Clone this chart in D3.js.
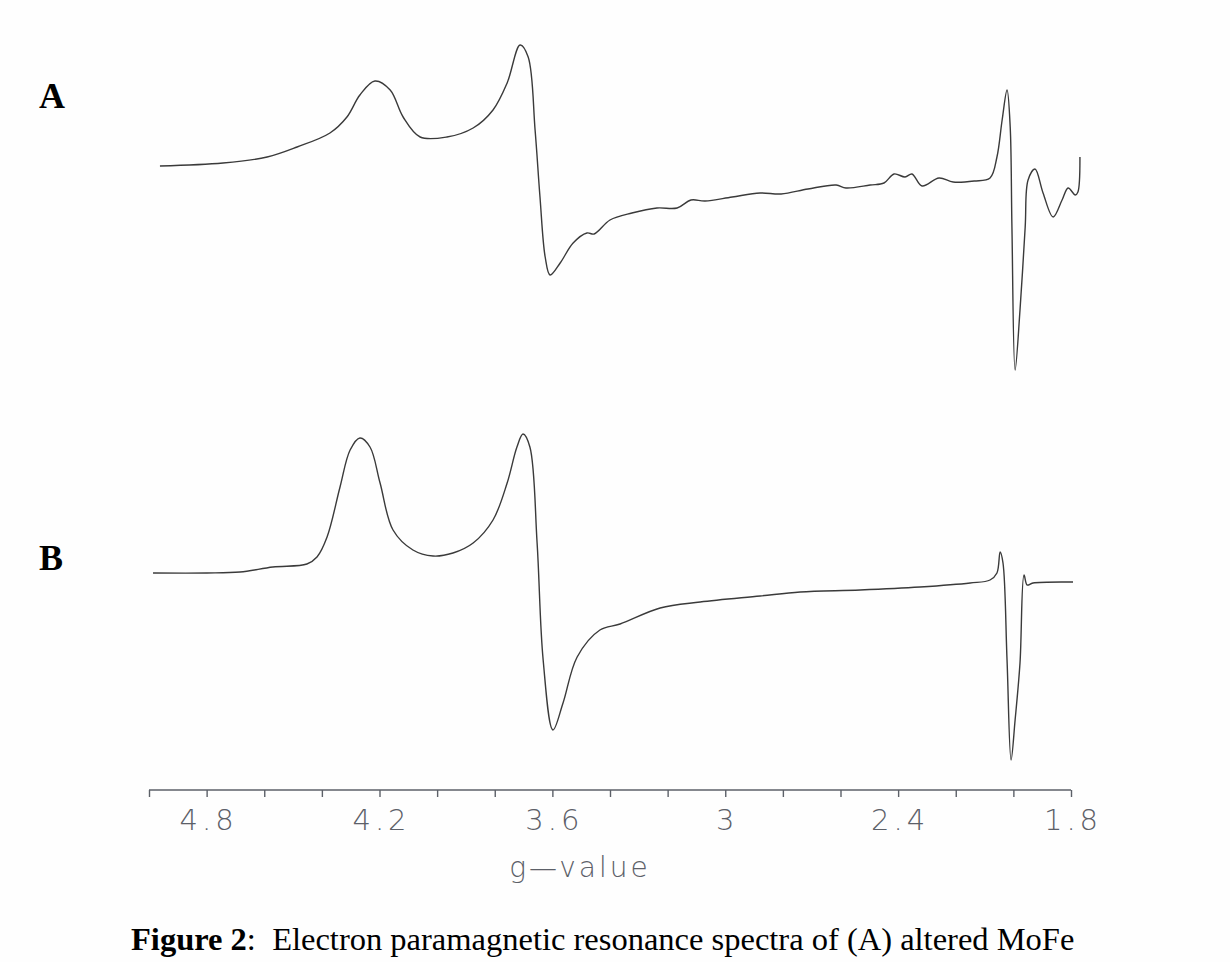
<!DOCTYPE html>
<html>
<head>
<meta charset="utf-8">
<script src="https://cdn.jsdelivr.net/npm/d3@7"></script>
<style>
  body { margin: 0; background: #fefefe; }
  svg { display: block; }
</style>
</head>
<body>
<div id="chart-area"></div>
<script>
// EPR spectra, values (intensity in arbitrary units)

const gA = [4.962, 4.743, 4.590, 4.486, 4.372, 4.313, 4.268, 4.216, 4.163, 4.118, 4.059, 3.966, 3.875, 3.806, 3.757, 3.712, 3.684, 3.660, 3.643, 3.625, 3.608, 3.573, 3.528, 3.480, 3.455, 3.400, 3.324, 3.237, 3.167, 3.119, 3.070, 2.976, 2.879, 2.806, 2.713, 2.615, 2.581, 2.497, 2.449, 2.414, 2.376, 2.352, 2.317, 2.258, 2.209, 2.136, 2.081, 2.057, 2.039, 2.022, 2.011, 2.005, 1.994, 1.977, 1.959, 1.949, 1.925, 1.897, 1.862, 1.831, 1.810, 1.785, 1.776, 1.769];
const intA = [14, 17, 23, 33, 47, 63, 85, 99, 90, 63, 43, 43, 52, 70, 97, 135, 123, 50, -17, -77, -95, -83, -63, -53, -54, -40, -33, -28, -28, -20, -21, -17, -13, -14, -9, -5, -8, -5, -3, 6, 3, 6, -6, 2, -2, -1, 2, 23, 60, 90, 53, -47, -190, -130, -47, 0, 11, -13, -37, -20, -8, -15, -12, 23];

const gB = [4.986, 4.799, 4.684, 4.570, 4.452, 4.417, 4.382, 4.337, 4.302, 4.268, 4.233, 4.198, 4.153, 4.084, 4.014, 3.945, 3.875, 3.806, 3.757, 3.723, 3.702, 3.678, 3.653, 3.632, 3.598, 3.563, 3.514, 3.435, 3.365, 3.226, 3.087, 2.879, 2.740, 2.532, 2.324, 2.150, 2.081, 2.057, 2.046, 2.036, 2.022, 2.008, 1.994, 1.977, 1.963, 1.952, 1.932, 1.793];
const intB = [7, 7, 8, 13, 16, 23, 43, 93, 130, 142, 133, 97, 50, 30, 24, 27, 37, 60, 97, 133, 146, 133, 37, -80, -150, -123, -77, -50, -44, -28, -22, -16, -12, -10, -7, -3, 0, 7, 28, 17, -80, -180, -140, -83, 5, -5, -3, -2];

const gTicks = [5.0, 4.8, 4.6, 4.4, 4.2, 4.0, 3.8, 3.6, 3.4, 3.2, 3.0, 2.8, 2.6, 2.4, 2.2, 2.0, 1.8];
const gLabels = [4.8, 4.2, 3.6, 3.0, 2.4, 1.8];

const W = 1230, H = 962;
const ink = "#3a3a3a";
const axisInk = "#5c6068";

const svg = d3.select("#chart-area").append("svg")
  .attr("width", W).attr("height", H);

let x = d3.scaleLinear().domain([5.0, 1.8]).range([149, 1071]);

// one y scale per trace
let yA = d3.scaleLinear().domain([-200, 140]).range([380, 40]);
let yB = d3.scaleLinear().domain([-200, 150]).range([780, 430]);

function trace(gs, vals, y) {
  const pts = gs.map((g, i) => [x(g), y(vals[i])]);
  svg.append("path")
    .attr("d", d3.line().curve(d3.curveCatmullRom.alpha(0.5))(pts))
    .attr("fill", "none")
    .attr("stroke", ink)
    .attr("stroke-width", 1.4)
    .attr("stroke-linejoin", "round");
}

trace(gA, intA, yA);
trace(gB, intB, yB);

// ---- g-value axis ----
let xAxis = d3.axisBottom(x).tickValues(gTicks).tickSize(7).tickFormat("");
let axisG = svg.append("g")
  .attr("transform", "translate(0,790)")
  .call(xAxis);
axisG.select(".domain").attr("stroke", axisInk).attr("stroke-width", 1.6)
  .attr("d", "M149,0H1071");
axisG.selectAll(".tick line").attr("stroke", axisInk).attr("stroke-width", 1.4);

svg.append("g").selectAll("text")
  .data(gLabels)
  .enter().append("text")
  .attr("x", (d) => x(d) + 2)
  .attr("y", 830)
  .attr("text-anchor", "middle")
  .attr("font-family", "DejaVu Sans")
  .attr("font-weight", 200)
  .attr("font-size", 29)
  .attr("letter-spacing", 4)
  .attr("fill", axisInk)
  .text((d) => (d === 3 ? "3" : d.toFixed(1)));

svg.append("text")
  .attr("x", 580).attr("y", 877)
  .attr("text-anchor", "middle")
  .attr("font-family", "DejaVu Sans")
  .attr("font-weight", 200)
  .attr("font-size", 28)
  .attr("fill", axisInk)
  .attr("letter-spacing", 3)
  .text("g\u2014value");

// panel letters
svg.append("text").attr("x", 39).attr("y", 108)
  .attr("font-family", "Liberation Serif").attr("font-weight", "bold")
  .attr("font-size", 36).attr("fill", "#000").text("A");
svg.append("text").attr("x", 39).attr("y", 570)
  .attr("font-family", "Liberation Serif").attr("font-weight", "bold")
  .attr("font-size", 36).attr("fill", "#000").text("B");

// caption
let cap = svg.append("text").attr("x", 131).attr("y", 950)
  .attr("font-family", "Liberation Serif").attr("font-size", 32.5).attr("fill", "#000");
cap.append("tspan").attr("font-weight", "bold").text("Figure 2");
cap.append("tspan").text(":\u00a0 Electron paramagnetic resonance spectra of (A) altered MoFe");
</script>
</body>
</html>
